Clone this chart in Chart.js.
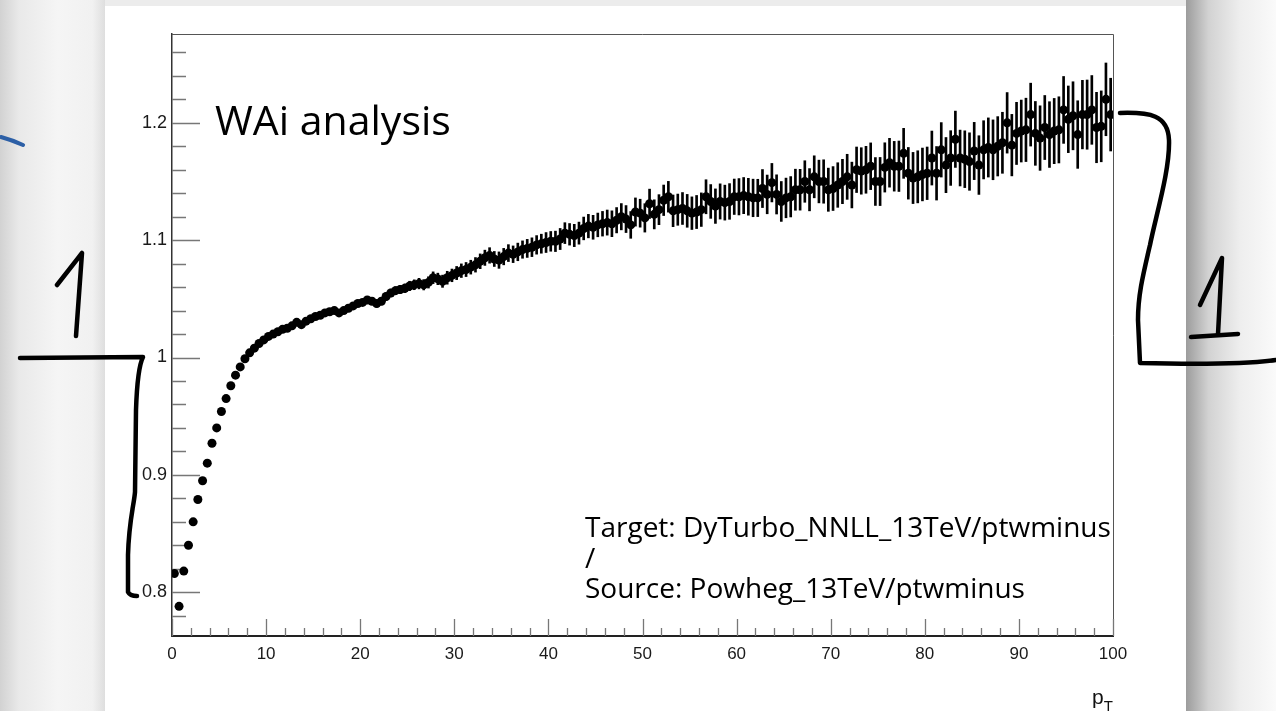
<!DOCTYPE html>
<html>
<head>
<meta charset="utf-8">
<script src="https://cdn.jsdelivr.net/npm/chart.js@4.4.0/dist/chart.umd.min.js"></script>
<style>
  html, body { margin: 0; padding: 0; width: 1276px; height: 711px; overflow: hidden; background: #ececec; }
  #left { position: absolute; left: 0; top: 0; width: 105px; height: 711px;
          background: linear-gradient(to right, #d2d2d2 0%, #e9e9e9 18%, #f5f5f5 55%, #f1f1f1 88%, #dedede 100%); }
  #panel { position: absolute; left: 105px; top: 6px; width: 1081px; height: 705px; background: #fff; }
  #right { position: absolute; left: 1186px; top: 0; width: 90px; height: 711px;
           background: linear-gradient(to right, #9c9c9c 0%, #d2d2d2 25%, #eeeeee 60%, #fafafa 100%); }
  #chart { position: absolute; left: 0; top: 0; }
  #ink { position: absolute; left: 0; top: 0; }
</style>
</head>
<body>
<div id="left"></div>
<div id="panel"></div>
<div id="right"></div>
<canvas id="chart" width="1276" height="711"></canvas>
<svg id="ink" width="1276" height="711" xmlns="http://www.w3.org/2000/svg">
  <text x="215" y="135" font-family="Open Sans" font-size="41" fill="#000">WAi analysis</text>
  <text font-family="Open Sans" font-size="28" fill="#000">
    <tspan x="585" y="537">Target: DyTurbo_NNLL_13TeV/ptwminus</tspan>
    <tspan x="585" y="568">/</tspan>
    <tspan x="585" y="598">Source: Powheg_13TeV/ptwminus</tspan>
  </text>
  <text x="1092" y="704" font-family="Liberation Sans" font-size="21" fill="#111">p<tspan font-size="15" dy="7">T</tspan></text>
  <g fill="none" stroke="#000" stroke-width="4.5" stroke-linecap="round" stroke-linejoin="round">
    <path d="M57 285 L82 253 L76 336"/>
    <path d="M20 358 L143 357 C139 365 137 380 136 410 L135 492 C134 505 129 520 128 555 L128 592 Q130 596 137 596"/>
    <path d="M1120 113 C1150 112 1168 115 1169 140 C1170 170 1156 215 1150 245 C1143 275 1138 295 1138 320 L1140 363 C1180 364 1240 365 1276 360"/>
    <path d="M1200 305 L1222 258 L1218 334"/>
    <path d="M1191 337 L1238 334"/>
  </g>
  <path d="M1 137 Q12 140 23 145" fill="none" stroke="#2c5fa6" stroke-width="4" stroke-linecap="round"/>
</svg>
<script>
// histogram binning of p_T (200 bins from 0 to 100)
const ptLow = 0;
const ptBinWidth = 0.5;

// ratio Target / Source, one value per bin
const ratio = [
  0.816, 0.788, 0.818, 0.840, 0.860, 0.879, 0.895, 0.910, 0.927, 0.940,   // 0-5
  0.954, 0.965, 0.976, 0.985, 0.992, 0.999, 1.004, 1.008, 1.012, 1.015,   // 5-10
  1.018, 1.020, 1.022, 1.024, 1.025, 1.027, 1.030, 1.028, 1.031, 1.033,   // 10-15
  1.035, 1.036, 1.038, 1.039, 1.040, 1.038, 1.040, 1.042, 1.044, 1.046,   // 15-20
  1.047, 1.049, 1.048, 1.046, 1.048, 1.052, 1.055, 1.057, 1.058, 1.059,   // 20-25
  1.061, 1.062, 1.063, 1.062, 1.064, 1.068, 1.067, 1.065, 1.068, 1.070,   // 25-30
  1.072, 1.074, 1.075, 1.077, 1.079, 1.082, 1.085, 1.087, 1.084, 1.083,   // 30-35
  1.086, 1.089, 1.088, 1.090, 1.092, 1.093, 1.094, 1.096, 1.097, 1.098,   // 35-40
  1.099, 1.099, 1.101, 1.106, 1.105, 1.104, 1.106, 1.110, 1.112, 1.111,   // 40-45
  1.113, 1.114, 1.115, 1.114, 1.117, 1.120, 1.118, 1.113, 1.124, 1.123,   // 45-50
  1.119, 1.131, 1.122, 1.126, 1.134, 1.137, 1.125, 1.126, 1.127, 1.125,   // 50-55
  1.123, 1.124, 1.126, 1.137, 1.133, 1.129, 1.133, 1.132, 1.133, 1.137,   // 55-60
  1.137, 1.138, 1.137, 1.136, 1.136, 1.144, 1.139, 1.149, 1.139, 1.133,   // 60-65
  1.136, 1.137, 1.143, 1.143, 1.150, 1.143, 1.154, 1.150, 1.150, 1.143,   // 65-70
  1.144, 1.147, 1.150, 1.154, 1.147, 1.160, 1.159, 1.160, 1.163, 1.150,   // 70-75
  1.150, 1.162, 1.166, 1.163, 1.163, 1.174, 1.157, 1.153, 1.154, 1.156,   // 75-80
  1.157, 1.170, 1.157, 1.177, 1.164, 1.170, 1.186, 1.170, 1.169, 1.167,   // 80-85
  1.176, 1.164, 1.177, 1.179, 1.177, 1.180, 1.183, 1.200, 1.181, 1.191,   // 85-90
  1.193, 1.194, 1.207, 1.191, 1.187, 1.196, 1.190, 1.193, 1.194, 1.211,   // 90-95
  1.203, 1.206, 1.190, 1.207, 1.207, 1.211, 1.196, 1.197, 1.220, 1.207    // 95-100
];

// half length of the vertical error bars
const ratioErr = [
  0.001, 0.001, 0.001, 0.001, 0.001, 0.001, 0.001, 0.001, 0.001, 0.001,
  0.001, 0.001, 0.001, 0.001, 0.001, 0.0012, 0.0012, 0.0012, 0.0012, 0.0014,
  0.0015, 0.0015, 0.0015, 0.0016, 0.0016, 0.0017, 0.0017, 0.0018, 0.0018, 0.0019,
  0.002, 0.002, 0.0021, 0.0022, 0.0022, 0.0023, 0.0024, 0.0025, 0.0025, 0.0026,
  0.0027, 0.0028, 0.0029, 0.003, 0.0031, 0.0032, 0.0033, 0.0034, 0.0035, 0.0037,
  0.004, 0.0042, 0.0045, 0.0044, 0.0048, 0.005, 0.0049, 0.0052, 0.0055, 0.0054,
  0.0056, 0.0058, 0.006, 0.0059, 0.0062, 0.0063, 0.0065, 0.0066, 0.0064, 0.007,
  0.007, 0.0072, 0.0071, 0.0075, 0.0074, 0.0077, 0.008, 0.0079, 0.0081, 0.0085,
  0.0084, 0.0087, 0.009, 0.0089, 0.0092, 0.0095, 0.0094, 0.0097, 0.010, 0.0102,
  0.0101, 0.0105, 0.0107, 0.011, 0.0108, 0.0112, 0.0115, 0.0114, 0.012, 0.0119,
  0.0121, 0.0125, 0.0124, 0.0128, 0.013, 0.0131, 0.0135, 0.0133, 0.0136, 0.014,
  0.0139, 0.0141, 0.0143, 0.0145, 0.0144, 0.0147, 0.015, 0.0149, 0.0152, 0.0151,
  0.0155, 0.0154, 0.0157, 0.016, 0.0159, 0.0162, 0.0165, 0.0164, 0.0167, 0.017,
  0.0169, 0.0172, 0.0175, 0.0174, 0.0177, 0.018, 0.0179, 0.0182, 0.0185, 0.0184,
  0.0187, 0.019, 0.0189, 0.0192, 0.0195, 0.0194, 0.0198, 0.020, 0.0199, 0.0204,
  0.0205, 0.021, 0.0208, 0.0212, 0.0215, 0.0213, 0.022, 0.0218, 0.0222, 0.0225,
  0.0224, 0.023, 0.0228, 0.0232, 0.0235, 0.0233, 0.024, 0.0238, 0.0242, 0.0245,
  0.0244, 0.025, 0.0248, 0.0252, 0.0255, 0.0253, 0.026, 0.0258, 0.0262, 0.0265,
  0.0264, 0.027, 0.0268, 0.0272, 0.0275, 0.0273, 0.028, 0.0278, 0.0282, 0.0285,
  0.0284, 0.029, 0.0288, 0.0292, 0.0295, 0.0293, 0.030, 0.0302, 0.031, 0.031
];

// axes
const xRange = [0, 100];
const yRange = [0.7627, 1.2757];
const xTickVals = [0, 10, 20, 30, 40, 50, 60, 70, 80, 90, 100];
const xTickLabels = ['0', '10', '20', '30', '40', '50', '60', '70', '80', '90', '100'];
const yTickVals = [0.8, 0.9, 1.0, 1.1, 1.2];
const yTickLabels = ['0.8', '0.9', '1', '1.1', '1.2'];
const xMinorStep = 2;
const yMinorStep = 0.02;

const ptCenters = ratio.map((_, i) => ptLow + (i + 0.5) * ptBinWidth);
const points = ratio.map((v, i) => ({ x: ptCenters[i], y: v }));
const errBars = ratio.map((v, i) => ({ x: ptCenters[i], y: [v - ratioErr[i], v + ratioErr[i]] }));

// ROOT-like frame: inward ticks and closed box
const rootFrame = {
  id: 'rootFrame',
  beforeDatasetsDraw(chart) {
    const { ctx, chartArea: a, scales: { x, y } } = chart;
    ctx.save();
    ctx.strokeStyle = '#555';
    ctx.lineWidth = 1;
    ctx.beginPath();
    ctx.moveTo(a.left, a.top + 0.5);
    ctx.lineTo(a.right + 0.5, a.top + 0.5);
    ctx.lineTo(a.right + 0.5, a.bottom);
    ctx.stroke();

    ctx.strokeStyle = '#777';
    ctx.lineWidth = 1.3;
    ctx.beginPath();
    for (let v = xRange[0]; v <= xRange[1] + 1e-9; v += xMinorStep) {
      const px = Math.round(x.getPixelForValue(v)) + 0.5;
      const major = xTickVals.some(t => Math.abs(t - v) < 1e-6);
      ctx.moveTo(px, a.bottom);
      ctx.lineTo(px, a.bottom - (major ? 17 : 8));
    }
    for (let k = Math.ceil(yRange[0] / yMinorStep); k * yMinorStep <= yRange[1]; k++) {
      const v = k * yMinorStep;
      const py = Math.round(y.getPixelForValue(v)) + 0.5;
      const major = yTickVals.some(t => Math.abs(t - v) < 1e-6);
      ctx.moveTo(a.left, py);
      ctx.lineTo(a.left + (major ? 28 : 14), py);
    }
    ctx.stroke();
    ctx.restore();
  }
};

new Chart(document.getElementById('chart'), {
  type: 'scatter',
  data: {
    datasets: [
      {
        type: 'bar',
        data: errBars,
        backgroundColor: '#000',
        borderWidth: 0,
        barThickness: 2,
        order: 2
      },
      {
        type: 'scatter',
        data: points,
        pointRadius: 4.5,
        pointBackgroundColor: '#000',
        pointBorderWidth: 0,
        order: 1
      }
    ]
  },
  options: {
    responsive: false,
    animation: false,
    devicePixelRatio: 1,
    layout: { padding: { left: 112, top: 34, right: 163, bottom: 35 } },
    plugins: { legend: { display: false }, tooltip: { enabled: false } },
    scales: {
      x: {
        type: 'linear',
        min: xRange[0],
        max: xRange[1],
        offset: false,
        grid: { display: false, drawTicks: false, offset: false },
        border: { color: '#222', width: 2 },
        afterBuildTicks: s => { s.ticks = xTickVals.map(v => ({ value: v })); },
        afterFit: s => { s.height = 40; },
        ticks: {
          autoSkip: false,
          maxRotation: 0,
          padding: 8,
          color: '#1a1a1a',
          font: { family: 'Liberation Sans', size: 17 },
          callback: (v, i) => xTickLabels[i]
        }
      },
      y: {
        type: 'linear',
        min: yRange[0],
        max: yRange[1],
        grid: { display: false, drawTicks: false },
        border: { color: '#333', width: 1.5 },
        afterBuildTicks: s => { s.ticks = yTickVals.map(v => ({ value: v })); },
        afterFit: s => { s.width = 60; },
        ticks: {
          padding: 5,
          color: '#1a1a1a',
          font: { family: 'Liberation Sans', size: 18 },
          callback: (v, i) => yTickLabels[i]
        }
      }
    }
  },
  plugins: [rootFrame]
});
</script>
</body>
</html>
